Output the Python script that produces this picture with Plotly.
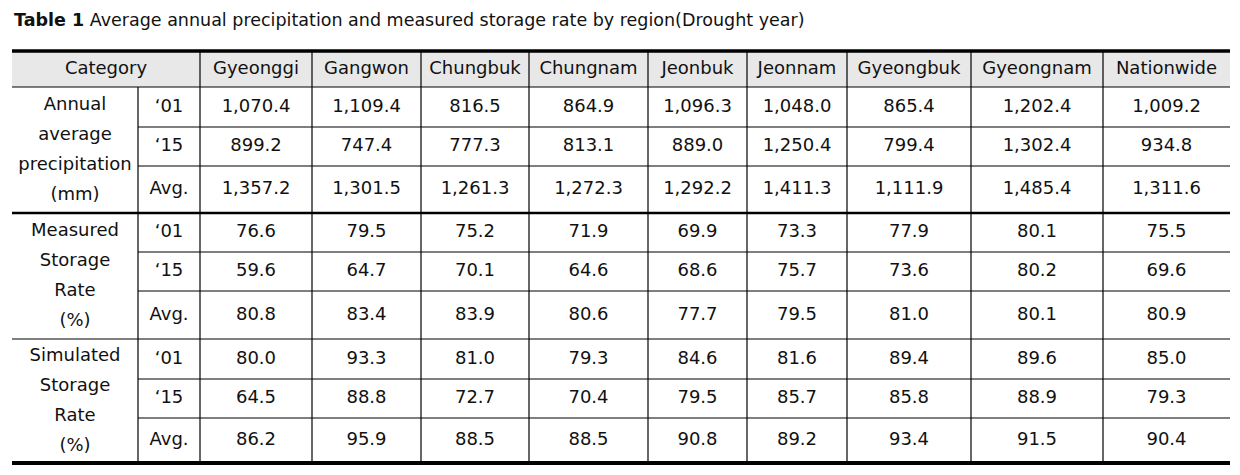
import plotly.graph_objects as go

# ---------------- data ----------------
title_bold = "Table 1"
title_rest = "Average annual precipitation and measured storage rate by region(Drought year)"
header_first = "Category"
regions = ["Gyeonggi", "Gangwon", "Chungbuk", "Chungnam", "Jeonbuk",
           "Jeonnam", "Gyeongbuk", "Gyeongnam", "Nationwide"]
sub_labels = ["\u201801", "\u201815", "Avg."]
group_labels = [
    ["Annual", "average", "precipitation", "(mm)"],
    ["Measured", "Storage", "Rate", "(%)"],
    ["Simulated", "Storage", "Rate", "(%)"],
]

precip_01 = [1070.4, 1109.4, 816.5, 864.9, 1096.3, 1048.0, 865.4, 1202.4, 1009.2]
precip_15 = [899.2, 747.4, 777.3, 813.1, 889.0, 1250.4, 799.4, 1302.4, 934.8]
precip_avg = [1357.2, 1301.5, 1261.3, 1272.3, 1292.2, 1411.3, 1111.9, 1485.4, 1311.6]
measured_01 = [76.6, 79.5, 75.2, 71.9, 69.9, 73.3, 77.9, 80.1, 75.5]
measured_15 = [59.6, 64.7, 70.1, 64.6, 68.6, 75.7, 73.6, 80.2, 69.6]
measured_avg = [80.8, 83.4, 83.9, 80.6, 77.7, 79.5, 81.0, 80.1, 80.9]
simulated_01 = [80.0, 93.3, 81.0, 79.3, 84.6, 81.6, 89.4, 89.6, 85.0]
simulated_15 = [64.5, 88.8, 72.7, 70.4, 79.5, 85.7, 85.8, 88.9, 79.3]
simulated_avg = [86.2, 95.9, 88.5, 88.5, 90.8, 89.2, 93.4, 91.5, 90.4]

groups = [
    [precip_01, precip_15, precip_avg],
    [measured_01, measured_15, measured_avg],
    [simulated_01, simulated_15, simulated_avg],
]

# ---------------- layout (style) ----------------
W, H = 1240, 475
OFF = 8  # page body margin
col_edges = [12, 138, 200, 312, 421, 529, 648, 747, 847, 971, 1103, 1230]
header_top, header_bot = 51, 87
row_edges = [87, 127, 166, 213, 252, 291, 339, 379, 418, 463]
FONT = "DejaVu Sans"
FS = 18
line_gap = 30

fig = go.Figure()
shapes = []

# header background
shapes.append(dict(type="rect", x0=col_edges[0], x1=col_edges[-1], y0=header_top, y1=header_bot,
                   fillcolor="#e8e8e8", line=dict(width=0), layer="below"))

# vertical lines
for i, x in enumerate(col_edges[1:-1], start=1):
    y0 = header_bot if i == 1 else header_top
    shapes.append(dict(type="line", x0=x, x1=x, y0=y0, y1=row_edges[-1],
                       line=dict(color="black", width=1.2)))

# horizontal lines
def hline(y, x0, w):
    shapes.append(dict(type="line", x0=x0, x1=col_edges[-1], y0=y, y1=y,
                       line=dict(color="black", width=w)))

hline(header_top, col_edges[0], 3.5)
hline(header_bot, col_edges[0], 1.2)
for g in range(3):
    base = g * 3
    hline(row_edges[base + 1], col_edges[1], 1.2)
    hline(row_edges[base + 2], col_edges[1], 1.2)
hline(row_edges[3], col_edges[0], 2.5)
hline(row_edges[6], col_edges[0], 1.2)
hline(row_edges[9], col_edges[0], 4)

# text collection
xs, ys, ts = [], [], []

def add(x, y, t):
    xs.append(x); ys.append(y); ts.append(t)

# header texts
hy = (header_top + header_bot) / 2
add((col_edges[0] + col_edges[2]) / 2, hy, header_first)
for j, r in enumerate(regions):
    add((col_edges[j + 2] + col_edges[j + 3]) / 2, hy, r)

# body
for g, grp in enumerate(groups):
    top = row_edges[g * 3]
    bot = row_edges[g * 3 + 3]
    cy = (top + bot) / 2
    lines = group_labels[g]
    n = len(lines)
    for k, ln in enumerate(lines):
        add((col_edges[0] + col_edges[1]) / 2, cy + (k - (n - 1) / 2) * line_gap, ln)
    for s, series in enumerate(grp):
        y = (row_edges[g * 3 + s] + row_edges[g * 3 + s + 1]) / 2
        add((col_edges[1] + col_edges[2]) / 2, y, sub_labels[s])
        for j, v in enumerate(series):
            add((col_edges[j + 2] + col_edges[j + 3]) / 2, y, f"{v:,.1f}")

fig.add_trace(go.Scatter(x=xs, y=ys, text=ts, mode="text", textposition="middle center",
                         textfont=dict(family=FONT, size=FS, color="#111111"),
                         hoverinfo="skip", showlegend=False))

fig.add_annotation(x=12, y=20, xref="x", yref="y", xanchor="left", yanchor="middle",
                   text=f"<b>{title_bold}</b> {title_rest}", showarrow=False,
                   font=dict(family=FONT, size=17.5, color="#111111"))

fig.update_layout(
    width=W - OFF, height=H - OFF, autosize=False,
    margin=dict(l=0, r=0, t=0, b=0),
    paper_bgcolor="white", plot_bgcolor="white",
    shapes=shapes,
    xaxis=dict(range=[OFF, W], visible=False, fixedrange=True),
    yaxis=dict(range=[H, OFF], visible=False, fixedrange=True),
)

fig.write_html("out.html", config={"displayModeBar": False})
